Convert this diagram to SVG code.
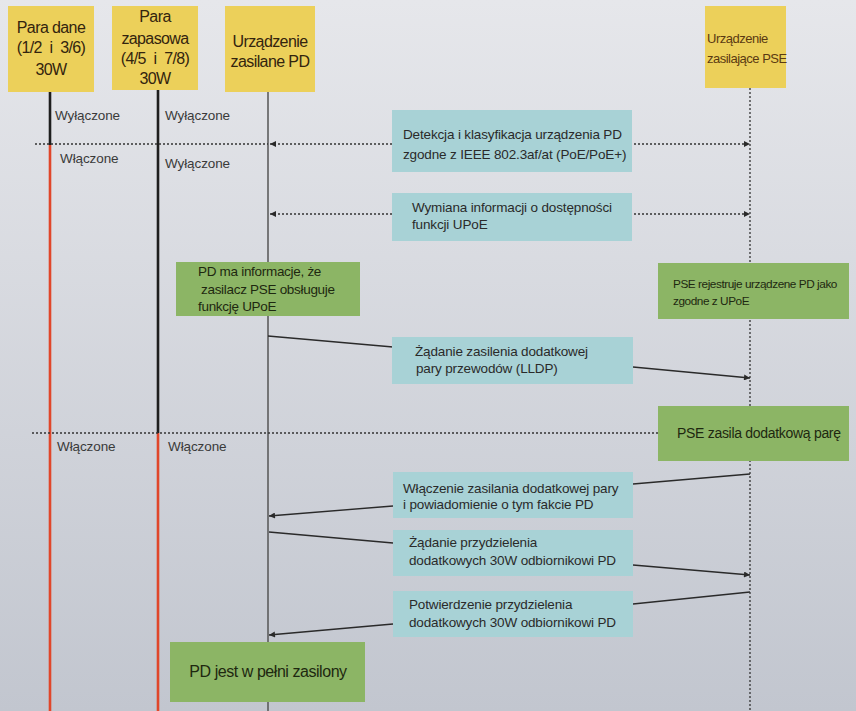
<svg xmlns="http://www.w3.org/2000/svg" width="856" height="711" viewBox="0 0 856 711">
<defs>
<linearGradient id="bg" x1="0" y1="0" x2="0" y2="1">
<stop offset="0" stop-color="#e6e7eb"/>
<stop offset="1" stop-color="#c2c6cf"/>
</linearGradient>
<marker id="ah" viewBox="0 0 10 10" refX="10" refY="5" markerWidth="9" markerHeight="6" orient="auto-start-reverse" markerUnits="userSpaceOnUse">
<path d="M0,0 L10,5 L0,10 z" fill="#2a2a2a"/>
</marker>
<style>
.hdr{fill:#ecd05a}
.teal{fill:#a8d2d6}
.green{fill:#8cb565}
.ht{font-family:"Liberation Sans",Arial,sans-serif;font-size:16px;fill:#33240e;text-anchor:middle;letter-spacing:-0.6px}
.pt{font-family:"Liberation Sans",Arial,sans-serif;font-size:13px;fill:#5a3a12;letter-spacing:-0.5px}
.lbl{font-family:"Liberation Sans",Arial,sans-serif;font-size:13.5px;fill:#3a3a3a;letter-spacing:-0.1px}
.bt{font-family:"Liberation Sans",Arial,sans-serif;font-size:13.5px;fill:#2a2a2a;letter-spacing:-0.15px}
.gt{font-family:"Liberation Sans",Arial,sans-serif;font-size:13.5px;fill:#1e2810;letter-spacing:-0.3px}
.gs{font-family:"Liberation Sans",Arial,sans-serif;font-size:11.8px;fill:#1e2810;letter-spacing:-0.45px}
.gl{font-family:"Liberation Sans",Arial,sans-serif;font-size:16px;fill:#1e2810;letter-spacing:-0.45px;text-anchor:middle}
.dot{stroke:#333;stroke-width:1.3;stroke-dasharray:2 2;fill:none}
.msg{stroke:#2a2a2a;stroke-width:1.4;fill:none}
</style>
</defs>
<rect x="0" y="0" width="856" height="711" fill="url(#bg)"/>

<g id="lifelines">
<line x1="50" y1="92" x2="50" y2="145" stroke="#1e1e1e" stroke-width="2.6"/>
<line x1="50" y1="145" x2="50" y2="711" stroke="#e0462a" stroke-width="2.6"/>
<line x1="158" y1="90" x2="158" y2="433" stroke="#1e1e1e" stroke-width="2.6"/>
<line x1="158" y1="433" x2="158" y2="711" stroke="#e0462a" stroke-width="2.6"/>
<line x1="268" y1="92" x2="268" y2="711" stroke="#555" stroke-width="1.5"/>
<line x1="750" y1="88" x2="750" y2="711" stroke="#333" stroke-width="1.3" stroke-dasharray="2 2"/>
</g>

<g id="connectors">
<line class="dot" x1="35" y1="144" x2="268" y2="144"/>
<line class="dot" x1="270" y1="144" x2="750" y2="144" marker-start="url(#ah)" marker-end="url(#ah)"/>
<line class="dot" x1="270" y1="214" x2="750" y2="214" marker-start="url(#ah)" marker-end="url(#ah)"/>
<line class="dot" x1="32" y1="433" x2="658" y2="433"/>
<line class="msg" x1="268" y1="336" x2="393" y2="347"/>
<line class="msg" x1="633" y1="367" x2="750" y2="378" marker-end="url(#ah)"/>
<line class="msg" x1="750" y1="474" x2="633" y2="484"/>
<line class="msg" x1="393" y1="506" x2="269" y2="516" marker-end="url(#ah)"/>
<line class="msg" x1="269" y1="532" x2="393" y2="543"/>
<line class="msg" x1="633" y1="565" x2="750" y2="575" marker-end="url(#ah)"/>
<line class="msg" x1="750" y1="592" x2="633" y2="604"/>
<line class="msg" x1="393" y1="624" x2="269" y2="635" marker-end="url(#ah)"/>
</g>

<g id="labels">
<text class="lbl" x="55" y="120">Wyłączone</text>
<text class="lbl" x="165" y="120">Wyłączone</text>
<text class="lbl" x="60" y="163">Włączone</text>
<text class="lbl" x="165" y="168">Wyłączone</text>
<text class="lbl" x="57" y="451">Włączone</text>
<text class="lbl" x="168" y="451">Włączone</text>
</g>

<g id="node-para-dane">
<rect class="hdr" x="8" y="6" width="86" height="86"/>
<text class="ht" x="51" y="33">Para dane</text>
<text class="ht" x="51" y="53" xml:space="preserve">(1/2  i  3/6)</text>
<text class="ht" x="51" y="75">30W</text>
</g>
<g id="node-para-zapasowa">
<rect class="hdr" x="112" y="6" width="86" height="84"/>
<text class="ht" x="155" y="22">Para</text>
<text class="ht" x="155" y="44">zapasowa</text>
<text class="ht" x="155" y="64" xml:space="preserve">(4/5  i  7/8)</text>
<text class="ht" x="155" y="84">30W</text>
</g>
<g id="node-pd">
<rect class="hdr" x="225" y="6" width="90" height="86"/>
<text class="ht" x="270" y="47">Urządzenie</text>
<text class="ht" x="270" y="67">zasilane PD</text>
</g>
<g id="node-pse">
<rect class="hdr" x="705" y="6" width="81" height="82"/>
<text class="pt" x="707" y="43">Urządzenie</text>
<text class="pt" x="707" y="63">zasilające PSE</text>
</g>

<g id="node-detekcja">
<rect class="teal" x="392" y="110" width="240" height="62"/>
<text class="bt" x="403" y="139">Detekcja i klasyfikacja urządzenia PD</text>
<text class="bt" x="403" y="159">zgodne z IEEE 802.3af/at (PoE/PoE+)</text>
</g>
<g id="node-wymiana">
<rect class="teal" x="392" y="193" width="240" height="48"/>
<text class="bt" x="412" y="212">Wymiana informacji o dostępności</text>
<text class="bt" x="412" y="229">funkcji UPoE</text>
</g>
<g id="node-pd-info">
<rect class="green" x="176" y="262" width="184" height="54"/>
<text class="gt" x="198" y="276">PD ma informacje, że</text>
<text class="gt" x="201" y="294">zasilacz PSE obsługuje</text>
<text class="gt" x="198" y="311">funkcję UPoE</text>
</g>
<g id="node-pse-rejestruje">
<rect class="green" x="658" y="263" width="191" height="56"/>
<text class="gs" x="673" y="288">PSE rejestruje urządzene PD jako</text>
<text class="gs" x="673" y="305">zgodne z UPoE</text>
</g>
<g id="node-zadanie-zasilenia">
<rect class="teal" x="392" y="337" width="241" height="47"/>
<text class="bt" x="415" y="356">Żądanie zasilenia dodatkowej</text>
<text class="bt" x="416" y="373">pary przewodów (LLDP)</text>
</g>
<g id="node-pse-zasila">
<rect class="green" x="658" y="406" width="191" height="55"/>
<text class="gt" x="677" y="438" style="font-size:14px">PSE zasila dodatkową parę</text>
</g>
<g id="node-wlaczenie">
<rect class="teal" x="393" y="472" width="240" height="46"/>
<text class="bt" x="403" y="493">Włączenie zasilania dodatkowej pary</text>
<text class="bt" x="403" y="509">i powiadomienie o tym fakcie PD</text>
</g>
<g id="node-zadanie-przydzielenia">
<rect class="teal" x="393" y="530" width="240" height="46"/>
<text class="bt" x="409" y="547">Żądanie przydzielenia</text>
<text class="bt" x="409" y="565">dodatkowych 30W odbiornikowi PD</text>
</g>
<g id="node-potwierdzenie">
<rect class="teal" x="393" y="591" width="240" height="46"/>
<text class="bt" x="409" y="609">Potwierdzenie przydzielenia</text>
<text class="bt" x="409" y="627">dodatkowych 30W odbiornikowi PD</text>
</g>
<g id="node-pd-zasilony">
<rect class="green" x="170" y="642" width="195" height="60"/>
<text class="gl" x="268" y="677">PD jest w pełni zasilony</text>
</g>
</svg>
